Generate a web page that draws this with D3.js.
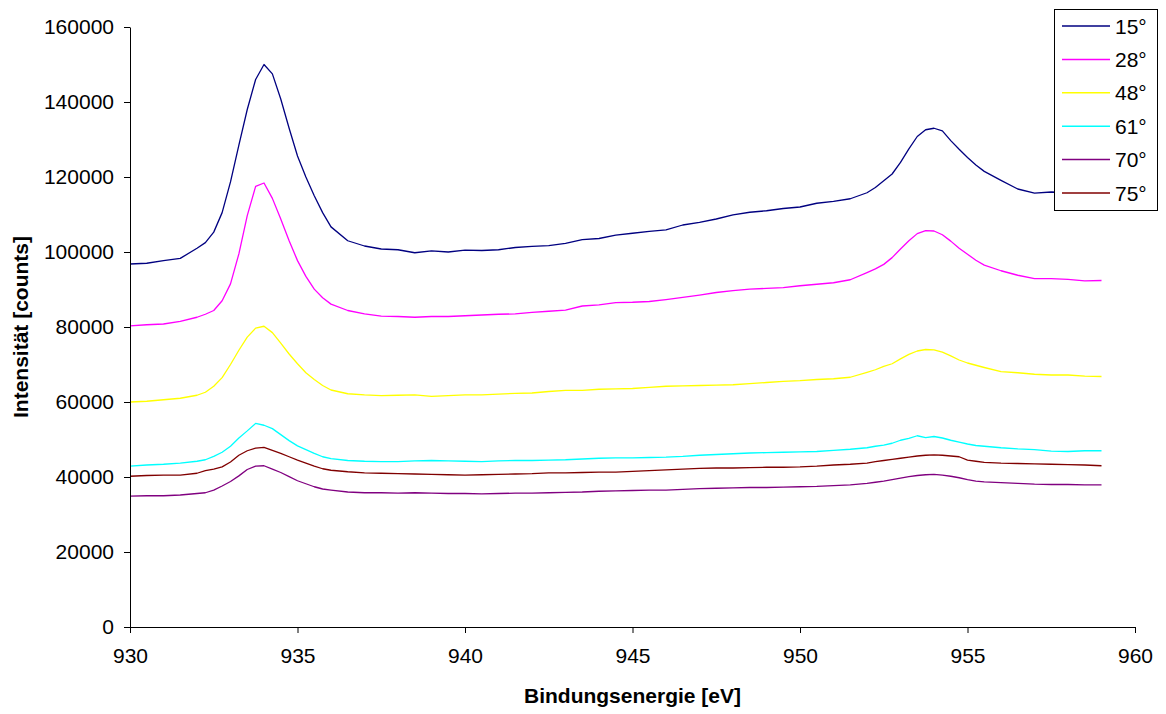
<!DOCTYPE html>
<html>
<head>
<meta charset="utf-8">
<script src="https://cdn.jsdelivr.net/npm/d3@7"></script>
<style>
  html, body { margin: 0; padding: 0; background: #fff; }
  svg { display: block; font-family: "Liberation Sans", Arial, sans-serif; }
</style>
</head>
<body>
<svg id="chart" width="1166" height="714"></svg>
<script>
// Bindungsenergie [eV], shared by all six angle scans
const energies = [930, 930.5, 931, 931.5, 932, 932.25, 932.5, 932.75, 933, 933.25, 933.5, 933.75, 934, 934.25, 934.5, 934.75,
  935, 935.25, 935.5, 935.75, 936, 936.5, 937, 937.5, 938, 938.5, 939, 939.5, 940, 940.5, 941, 941.5, 942, 942.5, 943, 943.5,
  944, 944.5, 945, 945.5, 946, 946.5, 947, 947.5, 948, 948.5, 949, 949.5, 950, 950.5, 951, 951.5, 952, 952.25, 952.5, 952.75,
  953, 953.25, 953.5, 953.75, 954, 954.25, 954.5, 954.75, 955, 955.25, 955.5, 956, 956.5, 957, 957.5, 958, 958.5, 959];

const labels = ["15°", "28°", "48°", "61°", "70°", "75°"];
const colors = ["#000080", "#ff00ff", "#ffff00", "#00ffff", "#800080", "#800000"];

const s15 = [96800, 97000, 97700, 98300, 101000, 102500, 105300, 110500, 118700, 128500, 138000, 146000, 150000, 147500, 140800, 133000,
  125600, 120000, 115000, 110500, 106700, 103000, 101600, 100800, 100600, 99800, 100300, 100000, 100500, 100400, 100600, 101200, 101500, 101700, 102300, 103300,
  103600, 104500, 105000, 105500, 105900, 107200, 107900, 108800, 109900, 110600, 111000, 111600, 112000, 113000, 113500, 114200, 115800, 117200, 119000, 120800,
  123900, 127500, 130800, 132600, 133000, 132300, 129700, 127400, 125200, 123200, 121500, 119100, 116800, 115700, 116000, 115800, 116200, 116500];
const s28 = [80300, 80600, 80800, 81500, 82600, 83400, 84400, 87000, 91500, 99500, 109700, 117500, 118400, 114300, 108800, 103000,
  97700, 93500, 90100, 87800, 86100, 84400, 83500, 82900, 82800, 82600, 82800, 82800, 83000, 83200, 83400, 83500, 83900, 84200, 84500, 85600,
  85900, 86500, 86600, 86800, 87300, 87900, 88500, 89200, 89700, 90100, 90300, 90500, 91000, 91400, 91800, 92600, 94500, 95500, 96700, 98500,
  100800, 103000, 104900, 105700, 105600, 104600, 102900, 101000, 99400, 97800, 96500, 95000, 93800, 92900, 92900, 92700, 92300, 92400];
const s48 = [60000, 60200, 60600, 61000, 61800, 62600, 64200, 66500, 70000, 73800, 77300, 79700, 80200, 78500, 75700, 72800,
  70200, 67800, 66000, 64400, 63200, 62200, 61900, 61700, 61800, 61900, 61500, 61700, 61900, 61900, 62100, 62300, 62400, 62800, 63100, 63100,
  63400, 63500, 63600, 63900, 64200, 64300, 64400, 64500, 64600, 64900, 65200, 65500, 65700, 66000, 66200, 66600, 67900, 68600, 69500, 70200,
  71500, 72700, 73600, 74000, 73900, 73300, 72300, 71200, 70400, 69800, 69200, 68100, 67800, 67400, 67200, 67200, 66900, 66800];
const s61 = [42900, 43200, 43400, 43700, 44200, 44600, 45500, 46600, 48200, 50400, 52300, 54300, 53800, 52900, 51300, 49700,
  48300, 47300, 46300, 45400, 44900, 44400, 44200, 44100, 44100, 44300, 44400, 44300, 44200, 44100, 44300, 44400, 44400, 44500, 44600, 44800,
  45000, 45100, 45100, 45200, 45300, 45500, 45800, 46000, 46200, 46400, 46500, 46600, 46700, 46800, 47100, 47400, 47800, 48200, 48500, 49000,
  49800, 50300, 51000, 50500, 50800, 50400, 49800, 49300, 48800, 48400, 48200, 47800, 47500, 47300, 46900, 46800, 47000, 47000];
const s70 = [34900, 35000, 35000, 35200, 35600, 35800, 36500, 37600, 38800, 40300, 42000, 42900, 43000, 42100, 41200, 40100,
  39000, 38200, 37400, 36800, 36500, 36000, 35800, 35800, 35700, 35800, 35700, 35600, 35600, 35500, 35600, 35700, 35700, 35800, 35900, 36000,
  36200, 36300, 36400, 36500, 36500, 36700, 36900, 37000, 37100, 37200, 37200, 37300, 37400, 37500, 37700, 37900, 38300, 38600, 38900, 39300,
  39700, 40100, 40400, 40600, 40700, 40500, 40200, 39800, 39300, 38900, 38700, 38500, 38300, 38100, 38000, 38000, 37900, 37900];
const s75 = [40200, 40400, 40500, 40500, 41000, 41700, 42100, 42700, 44000, 45800, 47000, 47700, 47900, 47100, 46300, 45400,
  44500, 43700, 42900, 42200, 41800, 41400, 41100, 41000, 40900, 40800, 40700, 40600, 40500, 40600, 40700, 40800, 40900, 41100, 41100, 41200,
  41300, 41300, 41500, 41700, 41900, 42100, 42300, 42400, 42400, 42500, 42600, 42600, 42700, 42900, 43200, 43400, 43700, 44100, 44400, 44700,
  45000, 45300, 45600, 45800, 45900, 45800, 45600, 45400, 44500, 44200, 43900, 43700, 43600, 43500, 43400, 43300, 43200, 43000];

const seriesValues = [s15, s28, s48, s61, s70, s75];
const xTicks = [930, 935, 940, 945, 950, 955, 960];
const yTicks = [0, 20000, 40000, 60000, 80000, 100000, 120000, 140000, 160000];

(function () {
  const svg = d3.select("#chart");
  const plot = { left: 130, right: 1135, top: 27, bottom: 627 };

  const x = d3.scaleLinear().domain([930, 960]).range([plot.left, plot.right]);
  const y = d3.scaleLinear().domain([0, 160000]).range([plot.bottom, plot.top]);

  // series first, legend box goes over them
  const line = d3.line().x((d) => x(d[0])).y((d) => y(d[1]));
  const series = labels.map((name, i) => ({ name, color: colors[i], pts: energies.map((e, j) => [e, seriesValues[i][j]]) }));

  svg.append("g")
    .selectAll("path")
    .data(series)
    .join("path")
    .attr("d", (d) => line(d.pts))
    .attr("fill", "none")
    .attr("stroke", (d) => d.color)
    .attr("stroke-width", 1.3)
    .attr("stroke-linejoin", "round");

  // axes
  const xAxis = svg.append("g")
    .attr("transform", `translate(0,${plot.bottom})`)
    .call(d3.axisBottom(x).tickValues(xTicks).tickSize(6).tickPadding(15).tickSizeOuter(0));
  const yAxis = svg.append("g")
    .attr("transform", `translate(${plot.left},0)`)
    .call(d3.axisLeft(y).tickValues(yTicks).tickSize(6).tickPadding(10).tickSizeOuter(0).tickFormat(d3.format("d")));

  [xAxis, yAxis].forEach((g) => {
    g.selectAll("text").attr("font-size", "21px").attr("fill", "#000").attr("font-family", "Liberation Sans, Arial, sans-serif");
    g.selectAll("line").attr("stroke", "#000");
    g.select(".domain").attr("stroke", "#000");
  });

  // axis titles
  svg.append("text")
    .attr("x", (plot.left + plot.right) / 2)
    .attr("y", 703)
    .attr("text-anchor", "middle")
    .attr("font-size", "21px")
    .attr("font-weight", "bold")
    .text("Bindungsenergie [eV]");

  svg.append("text")
    .attr("transform", `translate(28,${(plot.top + plot.bottom) / 2}) rotate(-90)`)
    .attr("text-anchor", "middle")
    .attr("font-size", "21px")
    .attr("font-weight", "bold")
    .text("Intensität [counts]");

  // legend
  const legend = svg.append("g");
  legend.append("rect")
    .attr("x", 1054.5).attr("y", 9.5)
    .attr("width", 103).attr("height", 201)
    .attr("fill", "#fff").attr("stroke", "#000").attr("stroke-width", 1);

  const rowY = d3.scalePoint().domain(labels).range([26, 193]);
  const rows = legend.selectAll("g.row").data(series).join("g").attr("class", "row")
    .attr("transform", (d) => `translate(0,${rowY(d.name)})`);
  rows.append("line")
    .attr("x1", 1062).attr("x2", 1110)
    .attr("stroke", (d) => d.color).attr("stroke-width", 1.5);
  rows.append("text")
    .attr("x", 1115).attr("dy", "0.36em")
    .attr("font-size", "21px")
    .text((d) => d.name);
})();
</script>
</body>
</html>
